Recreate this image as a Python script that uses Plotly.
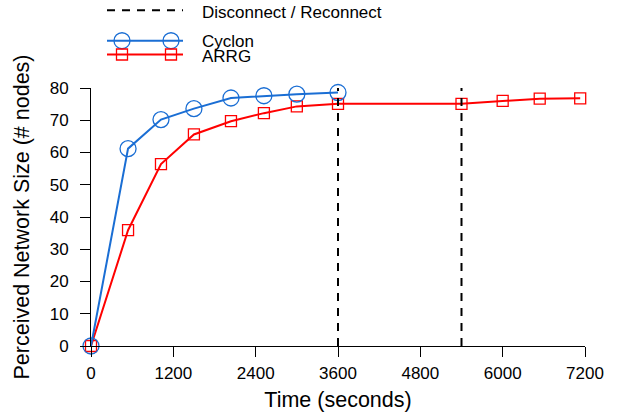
import plotly.graph_objects as go

# ---- data ----
cyclon_time = [0, 540, 1020, 1500, 2040, 2520, 3000, 3600]
cyclon_size = [0, 61.2, 70.2, 73.6, 76.9, 77.6, 78.1, 78.6]
arrg_time = [0, 540, 1020, 1500, 2040, 2520, 3000, 3600, 5400, 6000, 6540, 7130]
arrg_size = [0, 35.9, 56.4, 65.6, 69.7, 72.2, 74.3, 75.1, 75.1, 76.0, 76.7, 76.8]
event_times = [3600, 5400]  # disconnect / reconnect
event_span = [0, 80]
x_ticks = [0, 1200, 2400, 3600, 4800, 6000, 7200]
y_ticks = [0, 10, 20, 30, 40, 50, 60, 70, 80]
legend_labels = ["Disconnect / Reconnect", "Cyclon", "ARRG"]

BLUE = "#1a6ed4"
RED = "#ff0000"
FONT = "Liberation Sans, Arial, sans-serif"

W, H = 618, 419
L, R, T, B = 91, 33, 88, 69
PW, PH = W - L - R, H - T - B

def px2paper(px, py):
    return (px - L) / PW, (H - B - py) / PH

fig = go.Figure()
fig.add_trace(go.Scatter(x=arrg_time, y=arrg_size, mode="lines+markers",
                         line=dict(color=RED, width=2),
                         marker=dict(symbol="square-open", size=11, color=RED, line=dict(width=1.3, color=RED)),
                         cliponaxis=False, showlegend=False, hoverinfo="skip"))
fig.add_trace(go.Scatter(x=cyclon_time, y=cyclon_size, mode="lines+markers",
                         line=dict(color=BLUE, width=2),
                         marker=dict(symbol="circle-open", size=16, color=BLUE, line=dict(width=1.3, color=BLUE)),
                         cliponaxis=False, showlegend=False, hoverinfo="skip"))
for t in event_times:
    fig.add_trace(go.Scatter(x=[t, t], y=event_span, mode="lines",
                             line=dict(color="black", width=2, dash="8px,7px"),
                             cliponaxis=False, showlegend=False, hoverinfo="skip"))

# ---- manual legend ----
shapes = []
annotations = []
leg_rows = [(11, 9), (41, 40), (56, 54)]  # (text y, line y) in pixels
lx0, lx1, tx = 107, 183, 200
styles = [("black", "8px,7px", None), (BLUE, "solid", "circle"), (RED, "solid", "square")]
for (ty, ly), lab, (col, dash, mk) in zip(leg_rows, legend_labels, styles):
    x0, y0 = px2paper(lx0, ly)
    x1, _ = px2paper(lx1, ly)
    shapes.append(dict(type="line", xref="paper", yref="paper", x0=x0, x1=x1, y0=y0, y1=y0,
                       line=dict(color=col, width=2, dash=dash)))
    if mk:
        r = 8 if mk == "circle" else 5.5
        for mx in (122, 171):
            ax, ay = px2paper(mx, ly)
            shapes.append(dict(type="circle" if mk == "circle" else "rect",
                               xref="paper", yref="paper", xsizemode="pixel", ysizemode="pixel",
                               xanchor=ax, yanchor=ay, x0=-r, x1=r, y0=-r, y1=r,
                               line=dict(color=col, width=1.3)))
    axp, ayp = px2paper(tx, ty)
    annotations.append(dict(xref="paper", yref="paper", x=axp, y=ayp, text=lab, showarrow=False,
                            xanchor="left", yanchor="middle", font=dict(size=17, color="black", family=FONT)))

fig.update_layout(
    width=W, height=H,
    margin=dict(l=L, r=R, t=T, b=B, pad=0),
    paper_bgcolor="white", plot_bgcolor="white",
    font=dict(family=FONT, color="black", size=17),
    shapes=shapes, annotations=annotations,
    showlegend=False,
)
fig.update_xaxes(range=[0, 7200], tickvals=x_ticks, ticktext=[str(v) for v in x_ticks],
                 showline=True, linecolor="black", linewidth=1, ticks="outside", ticklen=10,
                 tickcolor="black", tickwidth=1, showgrid=False, zeroline=False, ticklabelstandoff=2,
                 tickfont=dict(size=17), title=dict(text="Time (seconds)", font=dict(size=21.5), standoff=9))
fig.update_yaxes(range=[0, 80], tickvals=y_ticks, ticktext=[str(v) for v in y_ticks],
                 showline=True, linecolor="black", linewidth=1, ticks="outside", ticklen=10,
                 tickcolor="black", tickwidth=1, showgrid=False, zeroline=False, ticklabelstandoff=8,
                 tickfont=dict(size=17),
                 title=dict(text="Perceived Network Size (# nodes)", font=dict(size=21.5), standoff=14))

fig.write_html("out.html", config={"displayModeBar": False},
               post_script="document.body.style.margin='0';")
